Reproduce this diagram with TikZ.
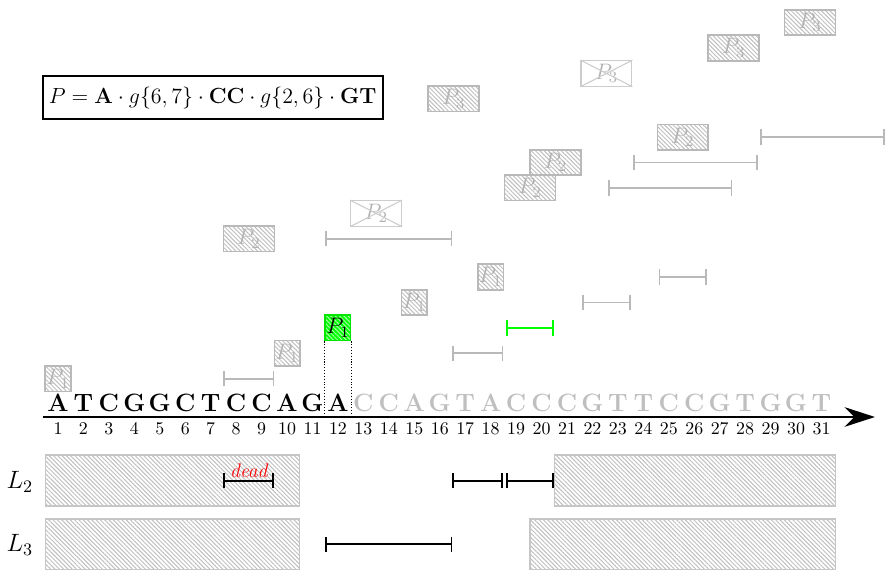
\RequirePackage{fix-cm}
\documentclass[tikz,border=0pt]{standalone}
\usetikzlibrary{patterns.meta,arrows.meta}
\begin{document}
\begin{tikzpicture}[x=0.5cm,y=0.5cm,
  hatch/.style={pattern={Lines[angle=-45,distance=1.7pt,line width=0.55pt]},pattern color=gray!50},
  pbox/.style={draw=gray!55,line width=0.9pt,hatch,inner sep=0pt,minimum height=0.5cm,text=gray!60,font=\fontsize{12.5}{14}\selectfont},
  pone/.style={pbox,minimum width=0.5cm},
  ptwo/.style={pbox,minimum width=1cm},
  hitbox/.style={pone,draw=green!90!black,text=black,
    pattern={Lines[angle=-45,distance=1.7pt,line width=0.55pt]},pattern color=green!35!white,
    preaction={fill=green}},
  xbox/.style={draw=gray!40,line width=0.6pt,fill=white,inner sep=0pt,minimum height=0.5cm,minimum width=1cm,text=gray!60,font=\fontsize{12.5}{14}\selectfont},
  xline/.style={draw=gray!40,line width=0.6pt},
  gspan/.style={draw=gray!55,line width=1pt,{Bar[width=8.5pt]}-{Bar[width=8.5pt]}},
  okspan/.style={gspan,draw=green},
  bspan/.style={draw=black,line width=1.1pt,{Bar[width=8.5pt]}-{Bar[width=8.5pt]}},
  lane/.style={draw=gray!45,line width=0.8pt,hatch},
  base/.style={font=\fontsize{14}{16}\selectfont\bfseries,anchor=base,inner sep=0pt},
  idx/.style={font=\fontsize{10}{12}\selectfont,inner sep=0pt},
  lab/.style={font=\fontsize{14}{16}\selectfont,inner sep=0pt}
]
\useasboundingbox (-1.279,-6.012) rectangle (33.574,16.385);

% pattern definition
\node[draw,line width=1.2pt,minimum width=6.68cm,minimum height=0.85cm,inner sep=0pt,font=\fontsize{12.25}{15}\selectfont]
  (pat) at (7.08,12.55) {$P = \mathbf{A}\cdot g\{6,7\}\cdot\mathbf{CC}\cdot g\{2,6\}\cdot\mathbf{GT}$};

% sequence axis
\coordinate (ax0) at (0.4,0);
\coordinate (ax1) at (33.1,0);
\draw[line width=1.2pt,-{Stealth[length=17pt,width=11pt]}] (ax0) -- (ax1);

% matched prefix (black) and remaining text (gray)
\foreach \c [count=\i] in {A,T,C,G,G,C,T,C,C,A,G,A}
  \node[base] (s\i) at (\i,0.21) {\c};
\foreach \c [count=\i from 13] in {C,C,A,G,T,A,C,C,C,G,T,T,C,C,G,T,G,G,T}
  \node[base,text=gray!50] (s\i) at (\i,0.21) {\c};
\foreach \i in {1,...,31}
  \node[idx] (n\i) at (\i,-0.46) {\i};

% P1 occurrences
\node[pone] (a1) at (1,1.5) {$P_1$};
\node[pone] (a2) at (10,2.5) {$P_1$};
\node[hitbox] (a3) at (12,3.5) {$P_1$};
\node[pone] (a4) at (15,4.5) {$P_1$};
\node[pone] (a5) at (18,5.5) {$P_1$};
\draw[densely dotted,line width=0.6pt] (a3.south west) -- (a3.south west |- ax0);
\draw[densely dotted,line width=0.6pt] (a3.south east) -- (a3.south east |- ax0);

% P2 occurrences
\node[ptwo] (b1) at (8.5,7) {$P_2$};
\node[xbox] (b2) at (13.5,8) {$P_2$};
\draw[xline] (b2.north west) -- (b2.south east) (b2.north east) -- (b2.south west);
\node[ptwo] (b3) at (19.55,9) {$P_2$};
\node[ptwo] (b4) at (20.55,10) {$P_2$};
\node[ptwo] (b5) at (25.55,11) {$P_2$};

% P3 occurrences
\node[ptwo] (c1) at (16.55,12.5) {$P_3$};
\node[xbox] (c2) at (22.55,13.5) {$P_3$};
\draw[xline] (c2.north west) -- (c2.south east) (c2.north east) -- (c2.south west);
\node[ptwo] (c3) at (27.55,14.5) {$P_3$};
\node[ptwo] (c4) at (30.55,15.5) {$P_3$};

% gap windows
\draw[gspan] (7.5,1.5) -- (9.5,1.5);
\draw[gspan] (16.5,2.5) -- (18.5,2.5);
\draw[okspan] (18.6,3.5) -- (20.5,3.5);
\draw[gspan] (21.6,4.5) -- (23.5,4.5);
\draw[gspan] (24.6,5.5) -- (26.5,5.5);
\draw[gspan] (11.5,7) -- (16.5,7);
\draw[gspan] (22.6,9) -- (27.5,9);
\draw[gspan] (23.6,10) -- (28.5,10);
\draw[gspan] (28.6,11) -- (33.5,11);

% lists L2 and L3
\node[lab] (l2) at (-0.5,-2.55) {$L_2$};
\node[lab] (l3) at (-0.5,-5.02) {$L_3$};
\draw[lane] (0.5,-3.5) rectangle (10.5,-1.5);
\draw[lane] (20.5,-3.5) rectangle (31.55,-1.5);
\draw[lane] (0.5,-6) rectangle (10.5,-4);
\draw[lane] (19.55,-6) rectangle (31.55,-4);

\draw[bspan] (7.5,-2.5) -- (9.5,-2.5);
\node[text=red,font=\fontsize{11}{13}\selectfont\itshape,anchor=base,inner sep=0pt] (dd) at (8.5,-2.36) {dead};
\draw[bspan] (16.5,-2.5) -- (18.5,-2.5);
\draw[bspan] (18.6,-2.5) -- (20.5,-2.5);
\draw[bspan] (11.5,-5) -- (16.5,-5);
\end{tikzpicture}
\end{document}
